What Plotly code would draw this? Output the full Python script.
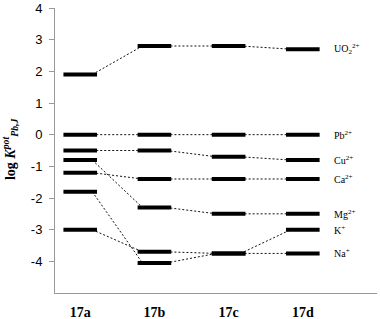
import plotly.graph_objects as go

categories = ["17a", "17b", "17c", "17d"]
ion_labels = ["UO<sub>2</sub><sup>2+</sup>", "Pb<sup>2+</sup>", "Cu<sup>2+</sup>",
              "Ca<sup>2+</sup>", "Mg<sup>2+</sup>", "K<sup>+</sup>", "Na<sup>+</sup>"]
uo2 = [1.9, 2.8, 2.8, 2.7]
pb = [0.0, 0.0, 0.0, 0.0]
cu = [-0.5, -0.5, -0.7, -0.8]
ca = [-1.2, -1.4, -1.4, -1.4]
mg = [-0.8, -2.3, -2.5, -2.5]
k = [-3.0, -3.7, -3.75, -3.0]
na = [-1.8, -4.05, -3.75, -3.75]
series = [uo2, pb, cu, ca, mg, k, na]
y_ticks = [-4, -3, -2, -1, 0, 1, 2, 3, 4]

BAR_PX = 24
X_RANGE = [-0.34, 4.0]
PLOT_W = 380 - 55 - 3
half = BAR_PX / 2 / (PLOT_W / (X_RANGE[1] - X_RANGE[0]))

xs = list(range(len(categories)))
fig = go.Figure()

# dotted connectors
for vals in series:
    lx, ly = [], []
    for i in range(len(vals) - 1):
        lx += [xs[i] + half, xs[i + 1] - half, None]
        ly += [vals[i], vals[i + 1], None]
    fig.add_trace(go.Scatter(x=lx, y=ly, mode="lines",
                             line=dict(color="#111", width=1, dash="2px,2px"),
                             hoverinfo="skip", showlegend=False))

# level bars
for vals in series:
    fig.add_trace(go.Scatter(x=xs, y=vals, mode="markers",
                             marker=dict(symbol="line-ew", size=BAR_PX,
                                         line=dict(color="black", width=4)),
                             showlegend=False))

annotations = []
for lab, vals in zip(ion_labels, series):
    annotations.append(dict(x=3.4, y=vals[-1], xref="x", yref="y", text=lab,
                            showarrow=False, xanchor="left", yanchor="middle",
                            font=dict(family="Liberation Serif", size=10, color="black")))
annotations.append(dict(x=0, y=0.505, xref="paper", yref="paper", xshift=-45,
                        text="<b>log <i>K</i><sup><i>pot</i></sup><sub><i>Pb,J</i></sub></b>",
                        textangle=-90, showarrow=False, xanchor="center", yanchor="middle",
                        font=dict(family="Liberation Serif", size=14, color="black")))

fig.update_layout(
    width=380, height=319,
    margin=dict(l=55, r=3, t=8, b=26, autoexpand=False),
    paper_bgcolor="white", plot_bgcolor="white",
    annotations=annotations,
    xaxis=dict(range=X_RANGE, tickvals=xs, ticktext=[f"<b>{c}</b>" for c in categories],
               showgrid=False, zeroline=False, showline=True, linecolor="#999",
               linewidth=1, ticks="", ticklabelstandoff=6,
               tickfont=dict(family="Liberation Serif", size=14, color="black")),
    yaxis=dict(range=[-5, 4], tickvals=y_ticks, ticktext=[str(t) for t in y_ticks],
               showgrid=False, zeroline=False, showline=True, linecolor="#999",
               linewidth=1, ticks="outside", ticklen=5, tickcolor="#999",
               ticklabelstandoff=4,
               tickfont=dict(family="Liberation Sans", size=13, color="black")),
)

fig.write_html("out.html", config={"displayModeBar": False},
               post_script="document.body.style.margin='0';document.body.style.overflow='hidden';")
